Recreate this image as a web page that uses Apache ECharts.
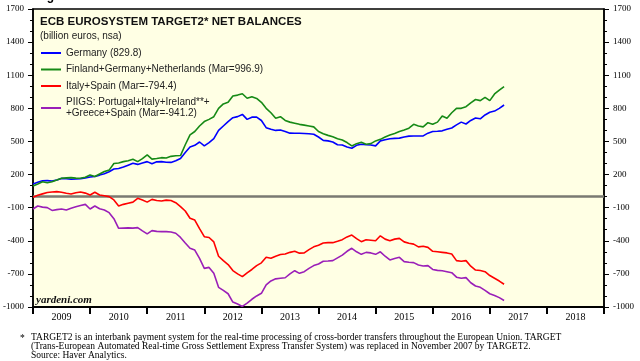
<!DOCTYPE html>
<html>
<head>
<meta charset="utf-8">
<script src="https://cdn.jsdelivr.net/npm/echarts@6/dist/echarts.min.js"></script>
<style>
html,body{margin:0;padding:0;background:#fff;}
#chart{width:640px;height:361px;}
</style>
</head>
<body>
<div id="chart"></div>
<script>
// Month-end observations, Dec 2008 .. Mar 2017 (billion euros)
const startYear = 2008, startMonth = 12, nMonths = 100;
const yearLabels = ['2009','2010','2011','2012','2013','2014','2015','2016','2017','2018'];
const yTicks = [-1000,-700,-400,-100,200,500,800,1100,1400,1700];

const germany = [115,130,144,145,141,150,165,162,157,160,163,170,178,183,195,208,225,250,255,268,
285,302,292,305,317,298,315,317,312,310,325,345,400,450,465,495,460,490,525,600,
640,680,715,725,745,700,720,720,690,625,610,600,603,590,575,574,574,572,570,565,
540,510,505,495,470,468,450,438,465,475,470,468,460,505,515,525,528,530,540,548,
549,549,550,575,590,592,596,610,622,650,675,658,690,712,705,740,765,775,800,830];

const finGerNed = [96,115,135,125,135,150,166,170,172,168,166,175,196,182,205,228,240,300,305,317,
325,338,317,345,378,340,345,353,350,365,370,372,470,560,590,640,680,700,724,800,
840,855,912,920,932,891,905,890,855,800,760,710,724,690,675,665,655,648,640,632,
590,570,555,543,525,513,490,459,480,492,475,480,505,519,540,558,572,590,604,620,
655,640,632,670,655,675,730,710,760,800,800,815,850,880,870,900,870,930,965,997];

const italySpain = [-5,12,25,38,42,45,40,30,24,35,42,32,15,40,15,8,0,-30,-85,-70,
-60,-50,-15,-30,-50,-25,-35,-40,-32,-35,-55,-90,-130,-196,-212,-290,-363,-370,-410,-540,
-580,-615,-670,-700,-725,-690,-660,-625,-600,-550,-559,-540,-525,-520,-505,-495,-512,-510,-480,-455,
-440,-420,-417,-417,-405,-390,-365,-348,-380,-408,-390,-395,-400,-355,-385,-400,-385,-378,-410,-423,
-430,-455,-450,-460,-495,-500,-505,-510,-520,-580,-585,-580,-630,-665,-670,-680,-715,-740,-765,-794];

const piigs = [-112,-85,-95,-100,-125,-118,-112,-121,-105,-92,-80,-70,-112,-85,-110,-121,-145,-200,-287,-285,
-283,-285,-281,-310,-338,-308,-315,-317,-317,-320,-332,-370,-420,-468,-484,-560,-650,-641,-695,-822,
-850,-880,-955,-973,-995,-965,-930,-900,-876,-800,-764,-745,-740,-735,-700,-671,-695,-680,-650,-625,
-610,-585,-583,-580,-555,-530,-495,-468,-500,-523,-505,-510,-523,-500,-540,-574,-560,-550,-589,-595,
-598,-620,-628,-625,-660,-668,-671,-680,-689,-730,-740,-734,-780,-810,-822,-850,-880,-895,-915,-941];

const seriesNames = [
  'Germany (829.8)',
  'Finland+Germany+Netherlands (Mar=996.9)',
  'Italy+Spain (Mar=-794.4)',
  'PIIGS: Portugal+Italy+Ireland**+\n+Greece+Spain (Mar=-941.2)'
];
const seriesColors = ['#0000ff','#168a16','#ff0000','#9a1fb8'];

// month-end position on a fractional-year axis
const times = [];
for (let k = 0; k < nMonths; k++) {
  const m = startMonth + k;
  const y = startYear + Math.floor(m / 12);
  const mo = m % 12;
  times.push(y + mo / 12);
}
const pair = arr => arr.map((v, i) => [times[i], v]);

const chart = echarts.init(document.getElementById('chart'), null, {renderer: 'canvas'});

const serif = 'Liberation Serif';
const sans = 'Liberation Sans';

const yAxisCommon = {
  type: 'value', min: yTicks[0], max: yTicks[yTicks.length - 1], interval: 300,
  splitLine: {show: false},
  axisLine: {show: true, lineStyle: {color: '#000', width: 1.5}},
  axisTick: {show: true, length: 5, lineStyle: {color: '#000', width: 1}},
  minorTick: {show: true, splitNumber: 3, length: 3, lineStyle: {color: '#000', width: 1}},
  axisLabel: {fontFamily: serif, fontSize: 9, color: '#000', margin: 9,
              formatter: v => String(v)}
};

const data = [germany, finGerNed, italySpain, piigs];

const option = {
  backgroundColor: '#ffffff',
  animation: false,
  grid: {left: 30, right: 36, top: 9, bottom: 54, show: true,
         backgroundColor: '#ffffe4', borderColor: '#000', borderWidth: 1.5},
  title: [
    {text: 'ECB EUROSYSTEM TARGET2* NET BALANCES', left: 35, top: 11,
     textStyle: {fontFamily: sans, fontWeight: 'bold', fontSize: 11.5, color: '#111'}},
    {text: '(billion euros, nsa)', left: 35, top: 26,
     textStyle: {fontFamily: sans, fontWeight: 'normal', fontSize: 10, color: '#222'}}
  ],
  legend: {
    orient: 'vertical', left: 36, top: 42.5, itemWidth: 20, itemHeight: 2, itemGap: 5.5,
    icon: 'rect', align: 'left',
    textStyle: {fontFamily: sans, fontSize: 10, color: '#222', lineHeight: 11, padding: [0,0,0,0]},
    data: seriesNames
  },
  xAxis: {
    type: 'value', min: 2009, max: 2019, interval: 1,
    splitLine: {show: false},
    axisLine: {show: true, lineStyle: {color: '#000', width: 2}, onZero: false},
    axisTick: {show: true, length: 7, lineStyle: {color: '#000', width: 2},
               customValues: yearLabels.map(Number).concat([2019])},
    axisLabel: {fontFamily: serif, fontSize: 10, color: '#000', margin: 5,
                customValues: yearLabels.map(y => Number(y) + 0.5),
                formatter: v => String(Math.floor(v))}
  },
  yAxis: [
    Object.assign({}, yAxisCommon, {position: 'left'}),
    Object.assign({}, yAxisCommon, {position: 'right'})
  ],
  graphic: [
    {type: 'text', left: 36, top: -9, style: {text: 'Figure 3.', font: 'bold 12px "Liberation Sans"', fill: '#000'}},
    {type: 'text', left: 36, top: 295, z: 10,
     style: {text: 'yardeni.com', font: 'italic bold 11px "Liberation Serif"', fill: '#111'}},
    {type: 'text', left: 20, top: 333, style: {text: '*', font: '9.5px "Liberation Serif"', fill: '#000'}},
    {type: 'text', left: 31, top: 332,
     style: {text: 'TARGET2 is an interbank payment system for the real-time processing of cross-border transfers throughout the European Union. TARGET\n(Trans-European Automated Real-time Gross Settlement Express Transfer System) was replaced in November 2007 by TARGET2.\nSource: Haver Analytics.',
             font: '9.5px "Liberation Serif"', lineHeight: 9, fill: '#000'}}
  ],
  series: data.map((arr, i) => ({
    name: seriesNames[i], type: 'line', data: pair(arr), yAxisIndex: 0,
    showSymbol: false, symbol: 'none', z: 3,
    lineStyle: {color: seriesColors[i], width: 1.6},
    itemStyle: {color: seriesColors[i]},
    markLine: i === 0 ? {silent: true, symbol: 'none', label: {show: false},
      lineStyle: {color: '#7a7a72', width: 2.5, type: 'solid'}, data: [{yAxis: 0}], z: 2} : undefined
  }))
};
chart.setOption(option);
</script>
</body>
</html>
